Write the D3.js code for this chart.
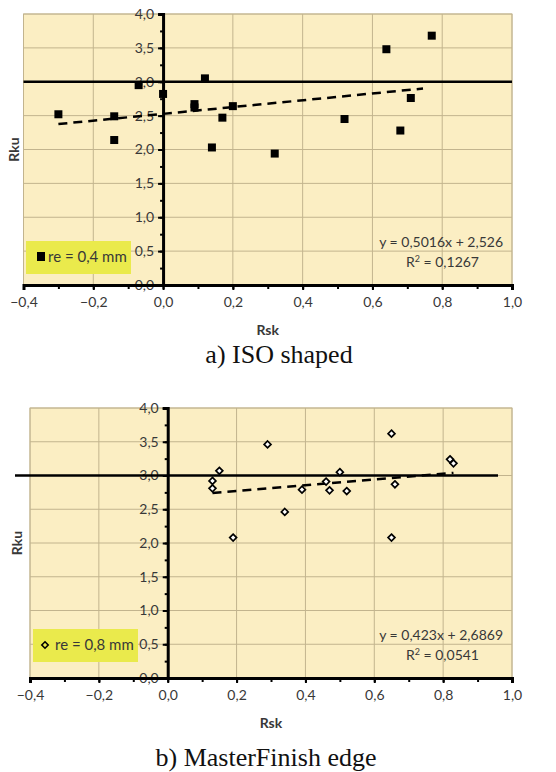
<!DOCTYPE html>
<html><head><meta charset="utf-8">
<script src="https://cdn.jsdelivr.net/npm/d3@7"></script>
<style>
html,body{margin:0;padding:0;background:#fff;}
svg{display:block;}
</style></head>
<body>
<svg id="c" width="556" height="772"></svg>
<script>
// ---- data ----
const xTicks = [-0.4, -0.2, 0.0, 0.2, 0.4, 0.6, 0.8, 1.0];
const yTicks = [0.0, 0.5, 1.0, 1.5, 2.0, 2.5, 3.0, 3.5, 4.0];
const isoRsk = [-0.30, -0.14, -0.14, -0.07, 0.00, 0.09, 0.09, 0.12, 0.14, 0.17, 0.20, 0.32, 0.52, 0.64, 0.68, 0.71, 0.77];
const isoRku = [2.52, 2.49, 2.14, 2.95, 2.82, 2.62, 2.67, 3.05, 2.03, 2.47, 2.64, 1.94, 2.45, 3.48, 2.28, 2.76, 3.68];
const mfRsk = [0.13, 0.13, 0.15, 0.19, 0.29, 0.34, 0.39, 0.46, 0.47, 0.50, 0.52, 0.65, 0.65, 0.66, 0.82, 0.83];
const mfRku = [2.92, 2.81, 3.07, 2.08, 3.46, 2.46, 2.79, 2.91, 2.78, 3.05, 2.77, 3.62, 2.08, 2.87, 3.24, 3.18];
const isoFit = {slope: 0.5016, intercept: 2.526, r2: "0,1267", eq: "y = 0,5016x + 2,526", from: -0.30, to: 0.745};
const mfFit = {slope: 0.423, intercept: 2.6869, r2: "0,0541", eq: "y = 0,423x + 2,6869", from: 0.13, to: 0.83};
const legendA = "re = 0,4 mm";
const legendB = "re = 0,8 mm";
const captionA = "a) ISO shaped";
const captionB = "b) MasterFinish edge";
const refLine = 3.0;

const svg = d3.select("#c");
const FONT = "Lato, 'Open Sans', sans-serif";
const TXT = "#383838";
const fmt = v => d3.format(".1f")(v).replace(".", ",");

function panel(cfg) {
  const g = svg.append("g");
  const x = d3.scaleLinear().domain([-0.4, 1.0]).range([cfg.left, cfg.right]);
  const y = d3.scaleLinear().domain([0, 4]).range([cfg.bottom, cfg.top]);
  // background
  g.append("rect").attr("x", cfg.left).attr("y", cfg.top)
    .attr("width", cfg.right - cfg.left).attr("height", cfg.bottom - cfg.top)
    .attr("fill", "#fbeec3").attr("stroke", "#c8bc9a").attr("stroke-width", 1);
  // grid
  g.selectAll(".gx").data(xTicks).join("line")
    .attr("x1", d => x(d)).attr("x2", d => x(d)).attr("y1", cfg.top).attr("y2", cfg.bottom)
    .attr("stroke", "#c2b48e").attr("stroke-width", 1);
  g.selectAll(".gy").data(yTicks).join("line")
    .attr("y1", d => y(d)).attr("y2", d => y(d)).attr("x1", cfg.left).attr("x2", cfg.right)
    .attr("stroke", "#c2b48e").attr("stroke-width", 1);
  // legend box
  g.append("rect").attr("x", cfg.legX).attr("y", cfg.legY).attr("width", 105).attr("height", 33)
    .attr("fill", "#eaea4c");
  // y axis at x=0
  const yMinor = d3.range(0, 4.001, 0.25);
  const gyMinor = g.append("g").attr("transform", `translate(${x(0)},0)`)
    .call(d3.axisLeft(y).tickValues(yMinor).tickSize(3).tickFormat(""));
  gyMinor.select(".domain").remove();
  gyMinor.selectAll("line").attr("stroke", "#000").attr("stroke-width", 2);
  const gy = g.append("g").attr("transform", `translate(${x(0)},0)`)
    .call(d3.axisLeft(y).tickValues(yTicks).tickSize(5).tickPadding(4).tickFormat(fmt));
  gy.select(".domain").attr("stroke", "#000").attr("stroke-width", 3);
  gy.selectAll("line").attr("stroke", "#000").attr("stroke-width", 2);
  gy.selectAll("text").attr("font-family", FONT).attr("font-size", 14).attr("fill", TXT);
  // x axis at bottom
  const xMinor = d3.range(-0.4, 1.0001, 0.1);
  const gxMinor = g.append("g").attr("transform", `translate(0,${cfg.bottom})`)
    .call(d3.axisBottom(x).tickValues(xMinor).tickSize(4).tickFormat(""));
  gxMinor.select(".domain").remove();
  gxMinor.selectAll("line").attr("stroke", "#000").attr("stroke-width", 2);
  const gx = g.append("g").attr("transform", `translate(0,${cfg.bottom})`)
    .call(d3.axisBottom(x).tickValues(xTicks).tickSize(5).tickPadding(7).tickFormat(fmt));
  gx.select(".domain").attr("stroke", "#000").attr("stroke-width", 3);
  gx.selectAll("line").attr("stroke", "#000").attr("stroke-width", 2);
  gx.selectAll("text").attr("font-family", FONT).attr("font-size", 14).attr("fill", TXT);
  // reference line at 3.0
  g.append("line").attr("x1", cfg.refX1).attr("x2", cfg.refX2)
    .attr("y1", y(refLine)).attr("y2", y(refLine))
    .attr("stroke", "#000").attr("stroke-width", 2.5);
  // trendline
  const f = cfg.fit;
  g.append("line")
    .attr("x1", x(f.from)).attr("y1", y(f.slope * f.from + f.intercept))
    .attr("x2", x(f.to)).attr("y2", y(f.slope * f.to + f.intercept))
    .attr("stroke", "#000").attr("stroke-width", 2.5).attr("stroke-dasharray", "9,6");
  // points
  const pts = cfg.xs.map((v, i) => [v, cfg.ys[i]]);
  if (cfg.marker === "square") {
    g.selectAll(".pt").data(pts).join("rect")
      .attr("x", d => x(d[0]) - 4).attr("y", d => y(d[1]) - 4)
      .attr("width", 8).attr("height", 8).attr("fill", "#000");
  } else {
    const sym = d3.symbol().type(d3.symbolDiamond2).size(30);
    g.selectAll(".pt").data(pts).join("path")
      .attr("transform", d => `translate(${x(d[0])},${y(d[1])})`)
      .attr("d", sym).attr("fill", "#fff").attr("stroke", "#000").attr("stroke-width", 1.7);
  }
  // legend content
  if (cfg.marker === "square") {
    g.append("rect").attr("x", cfg.legX + 11).attr("y", cfg.legY + 11).attr("width", 8).attr("height", 9).attr("fill", "#000");
  } else {
    g.append("path").attr("transform", `translate(${cfg.legX + 12},${cfg.legY + 16})`)
      .attr("d", d3.symbol().type(d3.symbolDiamond2).size(26))
      .attr("fill", "none").attr("stroke", "#000").attr("stroke-width", 1.6);
  }
  g.append("text").attr("x", cfg.legX + 22).attr("y", cfg.legY + 21)
    .attr("font-family", FONT).attr("font-size", 15).attr("fill", TXT).text(cfg.legend);
  // equation
  g.append("text").attr("x", cfg.right - 9).attr("y", cfg.eqY).attr("text-anchor", "end")
    .attr("font-family", FONT).attr("font-size", 14).attr("fill", TXT).text(f.eq);
  const r2 = g.append("text").attr("x", cfg.right - 33).attr("y", cfg.eqY + 20).attr("text-anchor", "end")
    .attr("font-family", FONT).attr("font-size", 14).attr("fill", TXT);
  r2.append("tspan").text("R");
  r2.append("tspan").attr("font-size", 9).attr("dy", -5).text("2");
  r2.append("tspan").attr("dy", 5).text(" = " + f.r2);
  // axis titles
  g.append("text").attr("x", (cfg.left + cfg.right) / 2).attr("y", cfg.bottom + 50)
    .attr("text-anchor", "middle").attr("font-family", FONT).attr("font-weight", "bold")
    .attr("font-size", 14).attr("fill", TXT).text("Rsk");
  g.append("text").attr("transform", `translate(${cfg.rkuX},${y(2)}) rotate(-90)`)
    .attr("text-anchor", "middle").attr("font-family", FONT).attr("font-weight", "bold")
    .attr("font-size", 14).attr("fill", TXT).text("Rku");
  // caption
  g.append("text").attr("x", cfg.capX).attr("y", cfg.capY).attr("text-anchor", "middle")
    .attr("font-family", "'Liberation Serif', 'Times New Roman', serif").attr("font-size", 26)
    .attr("fill", "#111").text(cfg.caption);
}

panel({left: 23.5, right: 512, top: 14, bottom: 285, xs: isoRsk, ys: isoRku, fit: isoFit,
  marker: "square", legend: legendA, legX: 26, legY: 241, eqY: 247, refX1: 23.5, refX2: 512,
  rkuX: 19, caption: captionA, capX: 279, capY: 363});
panel({left: 30, right: 512, top: 408, bottom: 678, xs: mfRsk, ys: mfRku, fit: mfFit,
  marker: "diamond", legend: legendB, legX: 33, legY: 629, eqY: 640, refX1: 15, refX2: 498,
  rkuX: 22, caption: captionB, capX: 266, capY: 766});
</script>
</body></html>
